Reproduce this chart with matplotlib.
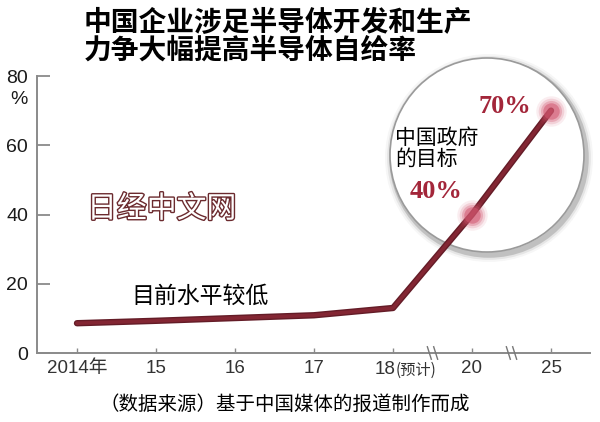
import matplotlib
matplotlib.use("Agg")
import matplotlib.pyplot as plt
from matplotlib.patches import Ellipse
import matplotlib.patheffects as pe

plt.rcParams['font.family'] = ['Noto Sans CJK SC', 'DejaVu Sans']

categories = ["2014年", "15", "16", "17", "18(预计)", "20", "25"]
values = [8.6, 9.3, 10.1, 10.9, 13.0, 40.0, 70.0]
yticks = [0, 20, 40, 60, 80]
target_idx = [5, 6]
target_labels = ["40%", "70%"]

line_dark = "#641c27"
line_mid = "#832633"
dot_color = "#d2566f"
label_red = "#a3263a"
narrow = ['Liberation Sans Narrow', 'Liberation Sans', 'Noto Sans CJK SC']

W, H = 600, 422
fig = plt.figure(figsize=(6, 4.22), dpi=100)
ax = fig.add_axes([37/W, 1-353/H, (590-37)/W, (353-76)/H])
ax.set_facecolor('none')

# magnifier circle (figure coords, drawn below the line)
cx, cy, r = 487/W, 1-155/H, 97
for lw, a in [(10, 0.05), (7, 0.1), (4, 0.25)]:
    ax.add_patch(Ellipse((cx + 2/W, cy - 3/H), 2*r/W, 2*r/H, transform=fig.transFigure,
                         facecolor='none', edgecolor='#555555', lw=lw, alpha=a,
                         zorder=0.2, clip_on=False))
ax.add_patch(Ellipse((cx, cy), 2*r/W, 2*r/H, transform=fig.transFigure,
                     facecolor='white', edgecolor='#9a9a9a', lw=1.2, zorder=0.5,
                     clip_on=False))

x = list(range(len(categories)))
ax.plot(x, values, color=line_dark, lw=4.6, solid_capstyle='round', zorder=3)
ax.plot(x, values, color=line_mid, lw=2.6, solid_capstyle='round', zorder=3.1)
for i in target_idx:
    for s, a in [(480, 0.10), (340, 0.18), (230, 0.3), (140, 0.55)]:
        ax.scatter([x[i]], [values[i]], s=s, color=dot_color, alpha=a, lw=0, zorder=4)

ax.set_xlim((37-77)/79, (590-77)/79)
ax.set_ylim(0, 80)
for s in ['top', 'right']:
    ax.spines[s].set_visible(False)
for s in ['left', 'bottom']:
    ax.spines[s].set_color('#8a8a8a')
    ax.spines[s].set_linewidth(1.4)
ax.set_yticks(yticks)
ax.set_yticklabels([str(v) for v in yticks], fontsize=14, color='#1a1a1a', family=narrow)
ax.tick_params(axis='y', direction='in', length=9.4, width=1.3, color='#8a8a8a', pad=6.5)
ax.set_xticks(x)
xl = list(categories)
xl[4] = ""
ax.set_xticklabels(xl, fontsize=13.5, color='#333333', family=narrow)
ax.tick_params(axis='x', direction='in', length=3.6, width=1, color='#8a8a8a', pad=5)
ax.text(x[4] + 0.03, -0.028, categories[4][:2], transform=ax.get_xaxis_transform(),
        fontsize=13.5, color='#333333', ha='right', va='top', family=narrow)
ax.text(x[4] + 0.03, -0.033, categories[4][2:], transform=ax.get_xaxis_transform(),
        fontsize=11, color='#333333', ha='left', va='top')
fig.text(19/W, 1-99/H, "%", fontsize=14, color='#1a1a1a', ha='center', va='center',
         family=narrow)

# axis break marks
for bx in [4.5, 5.5]:
    for dx in [-0.04, 0.04]:
        ax.plot([bx + dx - 0.025, bx + dx + 0.025], [1.8, -1.8], color='#777777',
                lw=1, clip_on=False, zorder=5)

# texts
fig.text(84/W, 1-23/H, "中国企业涉足半导体开发和生产", fontsize=20, fontweight='heavy',
         ha='left', va='center', color='black')
fig.text(84/W, 1-51/H, "力争大幅提高半导体自给率", fontsize=20, fontweight='heavy',
         ha='left', va='center', color='black')
fig.text(87/W, 1-209/H, "日经中文网", fontsize=21.5, color='white', ha='left', va='center',
         fontweight='light',
         path_effects=[pe.withStroke(linewidth=2.0, foreground='#6b2a2e')])
fig.text(131/W, 1-296/H, "目前水平较低", fontsize=16.5, ha='left', va='center', color='black')
fig.text(395/W, 1-148/H, "中国政府\n的目标", fontsize=15, ha='left', va='center',
         color='black', linespacing=0.95)
ax.text(x[target_idx[1]] - 0.25, values[target_idx[1]] + 1.2, target_labels[1], fontsize=19,
        fontweight='bold', family='Liberation Serif', color=label_red, ha='right', va='center')
ax.text(x[target_idx[0]] - 0.12, values[target_idx[0]] + 6.5, target_labels[0], fontsize=19,
        fontweight='bold', family='Liberation Serif', color=label_red, ha='right', va='center')
fig.text(285/W, 1-404/H, "（数据来源）基于中国媒体的报道制作而成", fontsize=14,
         ha='center', va='center', color='black')

fig.savefig("out.png", dpi=100)
